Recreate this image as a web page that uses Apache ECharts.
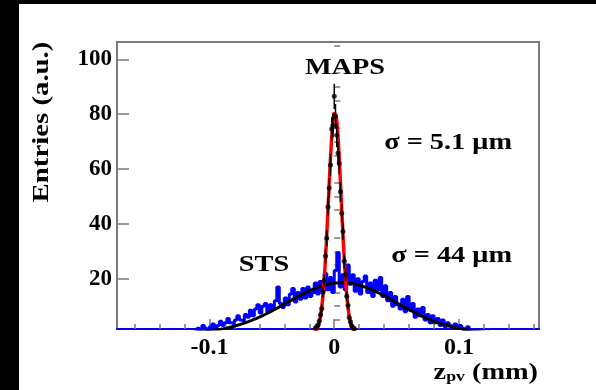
<!DOCTYPE html>
<html>
<head>
<meta charset="utf-8">
<script src="https://cdn.jsdelivr.net/npm/echarts@6/dist/echarts.min.js"></script>
<style>
html, body { margin: 0; padding: 0; background: #fff; }
#chart { width: 596px; height: 390px; }
</style>
</head>
<body>
<div id="chart"></div>
<script>
// Axis ranges and tick marks (z in mm, entries in arbitrary units)
const xRange = [-0.174, 0.164];
const yRange = [1.7, 106.3];
const xTickLabels = [-0.1, 0, 0.1];
const xMinorTicks = [-0.16, -0.14, -0.12, -0.08, -0.06, -0.04, -0.02, 0.02, 0.04, 0.06, 0.08, 0.12, 0.14, 0.16];
const yTickLabels = [20, 40, 60, 80, 100];
const yMinorTicks = [5, 10, 15, 25, 30, 35, 45, 50, 55, 65, 70, 75, 85, 90, 95, 105];

// STS vertex distribution: histogram of 0.002 mm bins starting at -0.12 mm
const stsFirstEdge = -0.12;
const stsBinWidth = 0.002;
const stsCounts = [
  0, 0, 0, 0, 0,             2, 0, 3, 2, 0,              2.5, 3.5, 2, 3, 4.5,        3, 4, 5.5, 4, 3.5,
  5, 6.5, 5, 4.5, 7,         6, 8.5, 6.5, 9, 10.5,       7.5, 10, 11, 8, 10.5,       9, 12, 17, 11, 9.5,
  13, 10.5, 14.5, 16.5, 11.5, 15, 12.5, 16.5, 13, 17,    13.5, 15, 18.5, 14.5, 19,   15.5, 22, 16, 20.5, 15,
  23, 29.5, 17, 21.5, 16,    25, 18, 21.5, 15.5, 20,     14.5, 19, 21, 15, 18.5,     13.5, 19.5, 16, 20.5, 13.5,
  17.5, 12, 15, 10, 13.5,    10.5, 9, 12.5, 8, 13.5,     8.5, 11, 6, 9, 6.5,         9.5, 5, 7, 4, 6.5,
  4, 5.5, 3, 5, 2.5,         4, 3, 2, 3.5, 2,            3, 2, 0, 2.5, 0,            0, 0, 0, 0, 0
];
// Gaussian fit of the STS distribution: amplitude, mean (mm), sigma (mm)
const stsFit = [18.6, 0.006, 0.044];

// MAPS vertex distribution: points with errors, 0.001 mm bins centred from -0.015 mm
const mapsFirstCenter = -0.015;
const mapsBinWidth = 0.001;
const mapsCounts = [
  2.1, 2.6, 3.2, 4.6, 6.9, 9.2, 15.1, 19.4, 28.3, 34.8, 46.2, 53.1, 61.5, 74.6, 76.0,
  86.5, 79.2, 72.3, 65.8, 62.0, 51.7, 43.9, 37.2, 26.4, 21.5, 13.6, 10.4, 5.9, 4.3, 2.9, 2.2, 1.9
];
const mapsErrors = [
  0.7, 0.8, 0.9, 1.1, 1.3, 1.5, 1.9, 2.2, 2.7, 2.9, 3.4, 3.6, 3.9, 4.3, 4.4,
  4.6, 4.5, 4.3, 4.1, 3.9, 3.6, 3.3, 3.0, 2.6, 2.3, 1.8, 1.6, 1.2, 1.0, 0.9, 0.7, 0.7
];
// Gaussian fit of the MAPS distribution: amplitude, mean (mm), sigma (mm)
const mapsFit = [81, 0.0005, 0.0051];

// Histogram outline as a step polyline through the bin edges
const stsStep = [];
stsCounts.forEach(function (v, i) {
  const lo = stsFirstEdge + i * stsBinWidth;
  stsStep.push([lo, v], [lo + stsBinWidth, v]);
});

const mapsPoints = mapsCounts.map(function (v, i) {
  return [mapsFirstCenter + i * mapsBinWidth, v, mapsErrors[i]];
});

// Sample a fitted Gaussian across +-5 sigma
function gaussCurve(p, n) {
  const pts = [];
  const lo = p[1] - 5 * p[2], hi = p[1] + 5 * p[2];
  for (let k = 0; k <= n; k++) {
    const x = lo + (hi - lo) * k / n;
    const d = (x - p[1]) / p[2];
    pts.push([x, p[0] * Math.exp(-0.5 * d * d)]);
  }
  return pts;
}

const serif = '"Liberation Serif", "Times New Roman", serif';
const frameColor = '#7a7a7a';
const wide = 1.18; // horizontal widening of the annotation lettering

function label(text, x, y, align, size) {
  return {
    type: 'text', x: x, y: y, scaleX: wide, z: 100,
    style: { text: text, font: 'bold ' + size + 'px ' + serif, fill: '#000',
      align: align, verticalAlign: 'middle' }
  };
}

const chart = echarts.init(document.getElementById('chart'), null, { renderer: 'canvas' });

chart.setOption({
  animation: false,
  backgroundColor: '#ffffff',
  grid: {
    left: 117, top: 42, right: 57, bottom: 61,
    show: true, borderColor: frameColor, borderWidth: 2, backgroundColor: '#ffffff'
  },
  xAxis: [
    {
      type: 'value', min: xRange[0], max: xRange[1], position: 'bottom',
      axisLine: { show: true, onZero: false, lineStyle: { color: '#0000ff', width: 2 } },
      axisTick: { show: true, inside: true, length: 10, customValues: xTickLabels,
        lineStyle: { color: frameColor, width: 1.5 } },
      axisLabel: {
        customValues: xTickLabels, margin: 7, color: '#000',
        fontFamily: serif, fontWeight: 'bold', fontSize: 24,
        formatter: function (v) { return String(Math.round(v * 10) / 10); }
      },
      splitLine: { show: false }
    },
    {
      type: 'value', min: xRange[0], max: xRange[1], position: 'bottom',
      axisLine: { show: false },
      axisTick: { show: true, inside: true, length: 5, customValues: xMinorTicks,
        lineStyle: { color: frameColor, width: 1.5 } },
      axisLabel: { show: false },
      splitLine: { show: false }
    }
  ],
  yAxis: [
    {
      type: 'value', min: yRange[0], max: yRange[1], position: 'left',
      axisLine: { show: true, onZero: false, lineStyle: { color: frameColor, width: 2 } },
      axisTick: { show: true, inside: true, length: 12, customValues: yTickLabels,
        lineStyle: { color: frameColor, width: 1.5 } },
      axisLabel: {
        customValues: yTickLabels, margin: 5, color: '#000',
        fontFamily: serif, fontWeight: 'bold', fontSize: 23
      },
      splitLine: { show: false }
    },
    {
      type: 'value', min: yRange[0], max: yRange[1], position: 'left',
      axisLine: { show: false },
      axisTick: { show: true, inside: true, length: 6, customValues: yMinorTicks,
        lineStyle: { color: frameColor, width: 1.5 } },
      axisLabel: { show: false },
      splitLine: { show: false }
    }
  ],
  series: [
    {
      name: 'STS', type: 'line', data: stsStep, showSymbol: false, symbol: 'none',
      clip: true, lineStyle: { color: '#0000ff', width: 3 }, z: 2
    },
    {
      name: 'STS fit', type: 'line', data: gaussCurve(stsFit, 200), showSymbol: false,
      symbol: 'none', clip: true, lineStyle: { color: '#000000', width: 3 }, z: 3
    },
    {
      name: 'MAPS fit', type: 'line', data: gaussCurve(mapsFit, 200), showSymbol: false,
      symbol: 'none', clip: true, lineStyle: { color: '#ff0000', width: 3.5 }, z: 4
    },
    {
      name: 'MAPS errors', type: 'custom', data: mapsPoints, clip: true, z: 5,
      renderItem: function (params, api) {
        const x = api.value(0), v = api.value(1), e = api.value(2);
        const top = api.coord([x, v + e]);
        const bot = api.coord([x, Math.max(v - e, yRange[0])]);
        return {
          type: 'line',
          shape: { x1: top[0], y1: top[1], x2: bot[0], y2: bot[1] },
          style: { stroke: '#000', lineWidth: 1.5 }
        };
      }
    },
    {
      name: 'MAPS', type: 'scatter', data: mapsPoints, symbol: 'circle', symbolSize: 5,
      clip: true, itemStyle: { color: '#000' }, z: 6
    }
  ],
  graphic: [
    { type: 'rect', shape: { x: 0, y: 0, width: 596, height: 4 }, style: { fill: '#000' }, z: 100 },
    { type: 'rect', shape: { x: 0, y: 0, width: 19, height: 390 }, style: { fill: '#000' }, z: 100 },
    {
      type: 'text', x: 42, y: 122, rotation: Math.PI / 2, scaleX: 1.2, z: 100,
      style: { text: 'Entries (a.u.)', font: 'bold 24px ' + serif, fill: '#000',
        align: 'center', verticalAlign: 'middle' }
    },
    {
      type: 'text', x: 538, y: 373, scaleX: wide, z: 100,
      style: {
        text: '{m|z}{s|pv}{m| (mm)}', align: 'right', verticalAlign: 'middle',
        rich: {
          m: { font: 'bold 24px ' + serif, fill: '#000', verticalAlign: 'bottom' },
          s: { font: 'bold 15px ' + serif, fill: '#000', padding: [9, 0, 0, 0] }
        }
      }
    },
    label('MAPS', 345, 68, 'center', 24),
    label('σ = 5.1 μm', 512, 143, 'right', 24),
    label('σ = 44 μm', 512, 256, 'right', 24),
    label('STS', 264, 265, 'center', 24)
  ]
});
</script>
</body>
</html>
